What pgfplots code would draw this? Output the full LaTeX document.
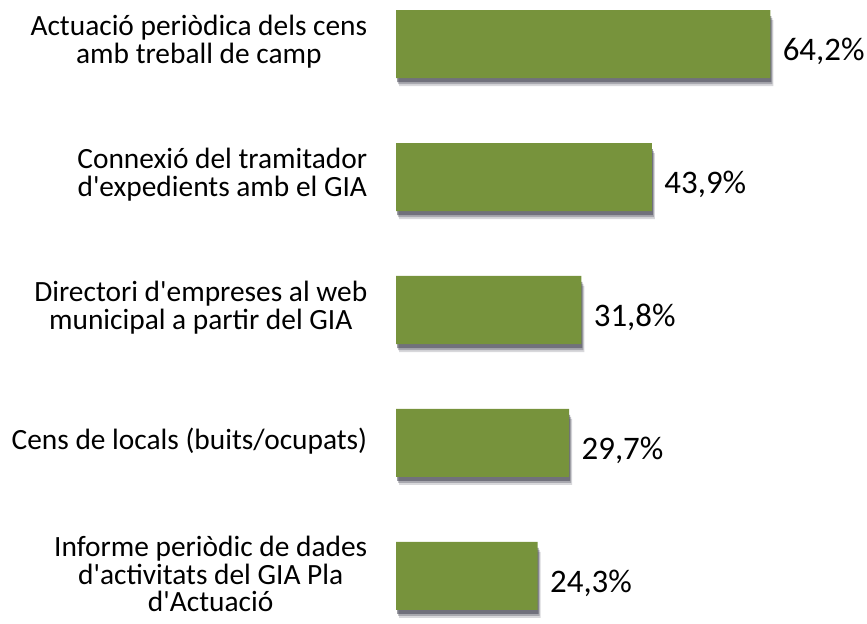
\documentclass[border=0pt]{standalone}
\usepackage{pgfplots}
\pgfplotsset{compat=1.18}
\usepackage{fontspec}
\setmainfont{Carlito}
\definecolor{barg}{HTML}{77933C}
\definecolor{shad}{HTML}{3A3A4A}
\newcommand{\q}{\textquotesingle}
\begin{document}
\begin{tikzpicture}[x=1bp,y=1bp]
\begin{axis}[
 at={(396bp,0bp)}, anchor=south west,
 scale only axis, width=466.4bp, height=624bp,
 xmin=0, xmax=80, ymin=0.639, ymax=5.331,
 xbar, bar width=68bp, bar shift=0pt,
 hide x axis,
 axis y line*=left, axis line style={draw=none}, ytick style={draw=none},
 ytick={1,2,3,4,5},
 yticklabels={{Informe periòdic de dades\\d\q activitats del GIA Pla\\d\q Actuació},
   {Cens de locals (buits/ocupats)},
   {Directori d\q empreses al web\\municipal a partir del GIA},
   {Connexió del tramitador\\d\q expedients amb el GIA},
   {Actuació periòdica dels cens\\amb treball de camp}},
 yticklabel style={align=center, font=\fontsize{29.5}{28}\selectfont, xshift=-21bp, yshift=2bp},
 clip=false,
 /pgf/number format/assume math mode=true,
]
\addplot[fill=shad, opacity=0.2, draw=none, bar width=66bp, yshift=-9bp, xshift=3bp] coordinates {(24.3,1) (29.7,2) (31.8,3) (43.9,4) (64.2,5)};
\addplot[fill=shad, opacity=0.3, draw=none, bar width=66bp, yshift=-7bp, xshift=2bp] coordinates {(24.3,1) (29.7,2) (31.8,3) (43.9,4) (64.2,5)};
\addplot[fill=shad, opacity=0.5, draw=none, bar width=66bp, yshift=-5bp, xshift=1bp] coordinates {(24.3,1) (29.7,2) (31.8,3) (43.9,4) (64.2,5)};
\addplot[fill=barg, draw=none,
 nodes near coords={\pgfmathprintnumber[fixed,fixed zerofill,precision=1,use comma]{\pgfplotspointmeta}\%},
 nodes near coords style={anchor=west, xshift=9bp, yshift=-7bp, font=\fontsize{33}{36}\selectfont, text=black},
] coordinates {(24.3,1) (29.7,2) (31.8,3) (43.9,4) (64.2,5)};
\end{axis}
\pgfresetboundingbox
\path (0,0) rectangle (867bp,624bp);
\end{tikzpicture}
\end{document}
